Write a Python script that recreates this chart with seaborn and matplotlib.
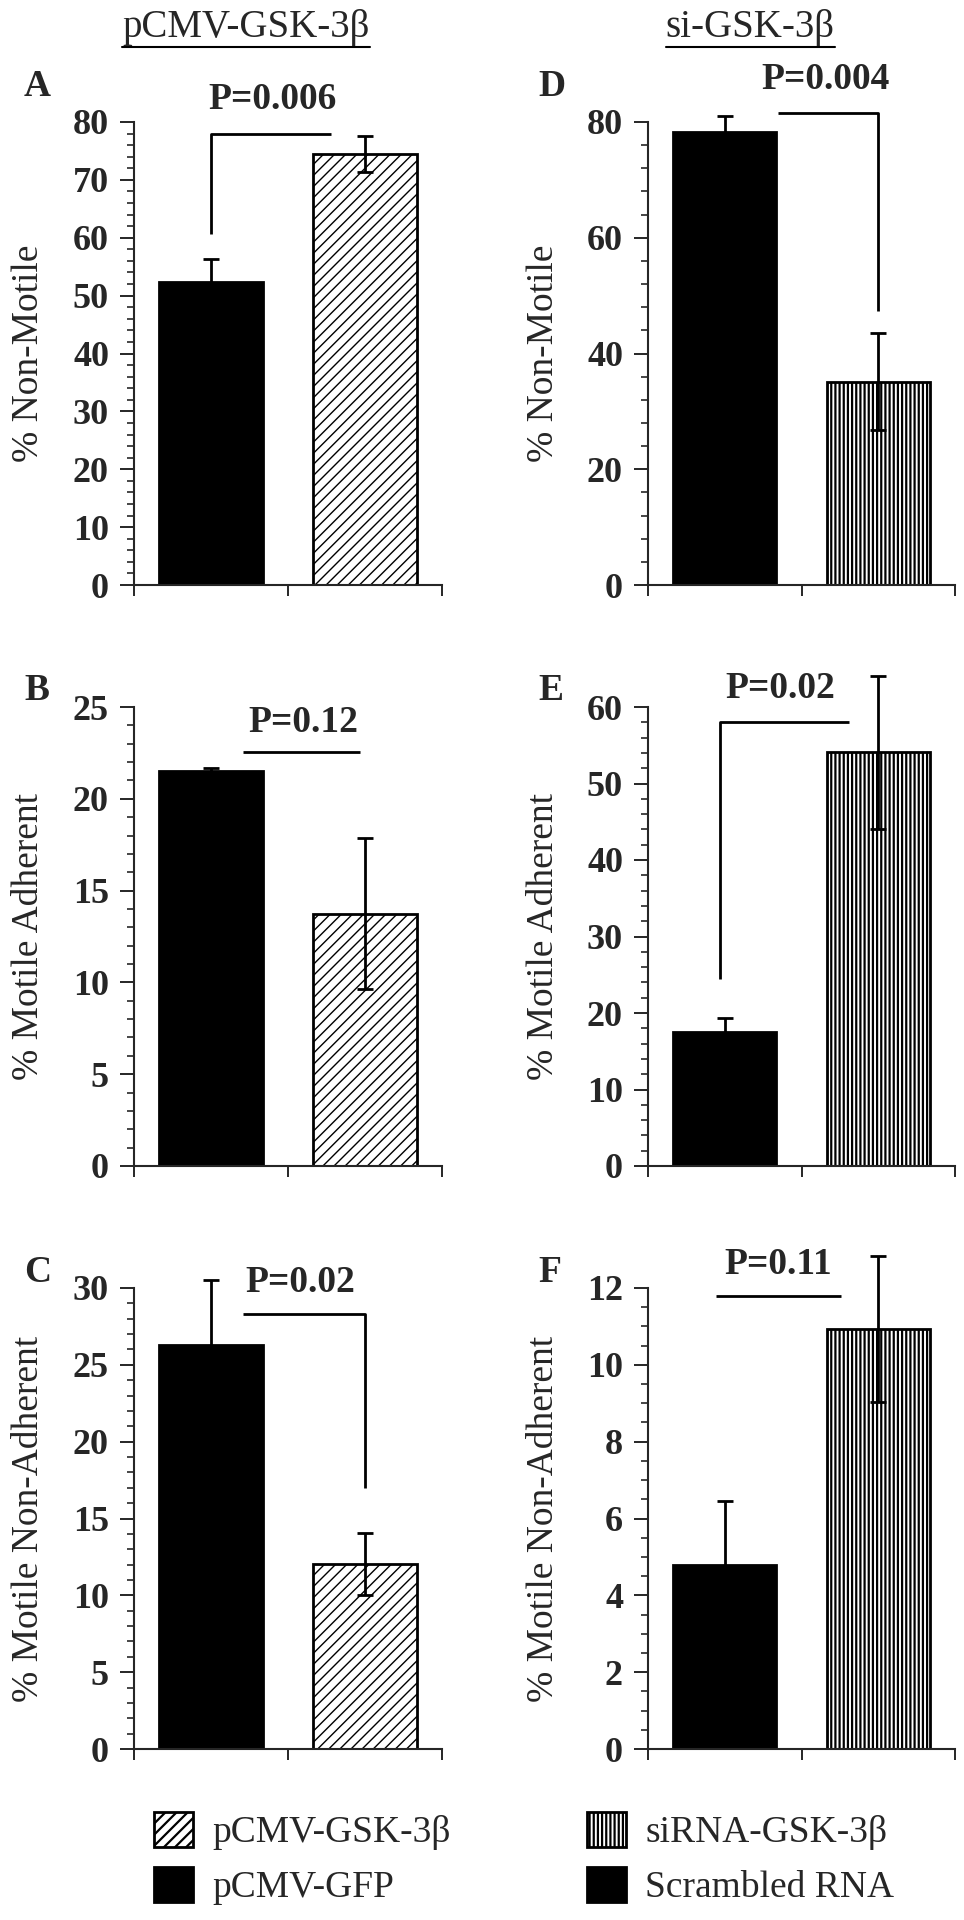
import numpy as np
import pandas as pd
import matplotlib
matplotlib.use('Agg')
import matplotlib.pyplot as plt
import matplotlib.patches as mpatches
from matplotlib.lines import Line2D
from matplotlib.ticker import MultipleLocator
import seaborn as sns

# Values: bar heights and error-bar half lengths
left_groups = ['pCMV-GFP', 'pCMV-GSK-3β']
right_groups = ['Scrambled RNA', 'siRNA-GSK-3β']

nonmotile_left = [52.4, 74.4]
nonmotile_left_err = [4.0, 3.1]
adherent_left = [21.5, 13.75]
adherent_left_err = [0.2, 4.1]
nonadherent_left = [26.3, 12.05]
nonadherent_left_err = [4.2, 2.0]

nonmotile_right = [78.3, 35.1]
nonmotile_right_err = [2.7, 8.4]
adherent_right = [17.5, 54.1]
adherent_right_err = [1.9, 10.0]
nonadherent_right = [4.8, 10.93]
nonadherent_right_err = [1.65, 1.9]

p_labels = ['P=0.006', 'P=0.12', 'P=0.02', 'P=0.004', 'P=0.02', 'P=0.11']

sns.set_style('ticks')
plt.rcParams['font.family'] = ['Liberation Serif', 'DejaVu Serif']

W, H = 964, 1920
fig = plt.figure(figsize=(W / 100, H / 100), dpi=100)

HATCH_LW = {'///': 1.0, '||||': 1.6}


def rect(x0, y_top, w, y_bot):
    return [x0 / W, 1 - y_bot / H, w / W, (y_bot - y_top) / H]


def set_hatch(patch, hatch):
    plt.rcParams['hatch.linewidth'] = HATCH_LW[hatch]
    patch.set_hatch(hatch)
    if hasattr(patch, 'set_hatch_linewidth'):
        patch.set_hatch_linewidth(HATCH_LW[hatch])


rows = [(122, 585), (707, 1166), (1288, 1749)]
cols = [(134, 308), (648, 307)]

# letter, ylabel, values, errors, groups, hatch, ymax, major, minor, p text pos, bracket
panels = [
    ('A', '% Non-Motile', nonmotile_left, nonmotile_left_err, left_groups, '///', 80, 10, 2,
     (0.40, 80.9), [(0, 60.6), (0, 77.9), (0.78, 77.9)]),
    ('B', '% Motile Adherent', adherent_left, adherent_left_err, left_groups, '///', 25, 5, 1,
     (0.60, 23.2), [(0.21, 22.55), (0.97, 22.55)]),
    ('C', '% Motile Non-Adherent', nonadherent_left, nonadherent_left_err, left_groups, '///', 30, 5, 1,
     (0.58, 29.2), [(0.21, 28.3), (1.0, 28.3), (1.0, 17.0)]),
    ('D', '% Non-Motile', nonmotile_right, nonmotile_right_err, right_groups, '||||', 80, 20, 4,
     (0.655, 84.4), [(0.35, 81.6), (1.0, 81.6), (1.0, 47.4)]),
    ('E', '% Motile Adherent', adherent_right, adherent_right_err, right_groups, '||||', 60, 10, 2,
     (0.36, 60.1), [(-0.03, 24.4), (-0.03, 58.1), (0.81, 58.1)]),
    ('F', '% Motile Non-Adherent', nonadherent_right, nonadherent_right_err, right_groups, '||||', 12, 2, 0.5,
     (0.35, 12.15), [(-0.06, 11.8), (0.76, 11.8)]),
]

for i, (letter, ylabel, vals, errs, groups, hatch, ymax, major, minor, ptxt, bracket) in enumerate(panels):
    col = i // 3
    row = i % 3
    x0, w = cols[col]
    y_top, y_bot = rows[row]
    ax = fig.add_axes(rect(x0, y_top, w, y_bot))

    df = pd.DataFrame({'group': groups, 'value': vals})
    sns.barplot(data=df, x='group', y='value', hue='group', palette=['black', 'white'],
                edgecolor='black', linewidth=2, width=0.67, errorbar=None, legend=False,
                saturation=1, ax=ax)
    set_hatch(ax.patches[1], hatch)
    eb = ax.errorbar(x=[0, 1], y=vals, yerr=errs, fmt='none', ecolor='black',
                     elinewidth=2, capsize=6, capthick=2)
    for art in eb.get_children():
        art.set_clip_on(False)

    ax.set_xlim(-0.5, 1.5)
    ax.set_ylim(0, ymax)
    ax.set_xticks([-0.5, 0.5, 1.5])
    ax.set_xticklabels(['', '', ''])
    ax.set_yticks(np.arange(0, ymax + 0.01, major))
    ax.yaxis.set_minor_locator(MultipleLocator(minor))
    ax.set_xlabel('')
    sns.despine(ax=ax)
    for s in ['left', 'bottom']:
        ax.spines[s].set_linewidth(1.5)
    ax.tick_params(axis='y', which='major', length=10, width=1.4, labelsize=26, pad=8)
    ax.tick_params(axis='y', which='minor', length=5, width=1.2)
    ax.tick_params(axis='x', which='major', length=8, width=1.4)
    for lab in ax.get_yticklabels():
        lab.set_fontweight('bold')
    ax.set_ylabel(ylabel, fontsize=27)
    ax.yaxis.set_label_coords(-0.285, 0.5)

    bx, by = zip(*bracket)
    ax.plot(bx, by, color='black', lw=2, clip_on=False, solid_capstyle='butt')
    ax.text(ptxt[0], ptxt[1], p_labels[i], ha='center', va='bottom', fontsize=27,
            fontweight='bold', clip_on=False)

    fig.text((x0 - 110) / W, 1 - (y_top - 36 if row == 0 else y_top - 16) / H, letter,
             fontsize=27, fontweight='bold', ha='left', va='center')

# Column titles (underlined)
titles = [('pCMV-GSK-3β', 246), ('si-GSK-3β', 750)]
title_texts = []
for t, cx in titles:
    title_texts.append(fig.text(cx / W, 1 - 27 / H, t, fontsize=28, ha='center', va='center'))

fig.canvas.draw()
renderer = fig.canvas.get_renderer()
for tt in title_texts:
    bb = tt.get_window_extent(renderer=renderer)
    yl = (bb.y0 - 1) / H
    fig.add_artist(Line2D([bb.x0 / W, bb.x1 / W], [yl, yl], color='black', lw=1.5))

# Legends
plt.rcParams['hatch.linewidth'] = 1.0
handles_left = [mpatches.Patch(facecolor='white', edgecolor='black', hatch='///', lw=2, label=left_groups[1]),
                mpatches.Patch(facecolor='black', edgecolor='black', lw=2, label=left_groups[0])]
handles_right = [mpatches.Patch(facecolor='white', edgecolor='black', hatch='||||', lw=2, label=right_groups[1]),
                 mpatches.Patch(facecolor='black', edgecolor='black', lw=2, label=right_groups[0])]
set_hatch(handles_right[0], '||||')
for handles, x in [(handles_left, 154), (handles_right, 587)]:
    fig.legend(handles=handles, loc='upper left', bbox_to_anchor=(x / W, 1 - 1812 / H),
               frameon=False, fontsize=27, handlelength=1.05, handleheight=1.05,
               handletextpad=0.5, labelspacing=0.45, borderpad=0, borderaxespad=0)

fig.savefig('out.png', dpi=100)
